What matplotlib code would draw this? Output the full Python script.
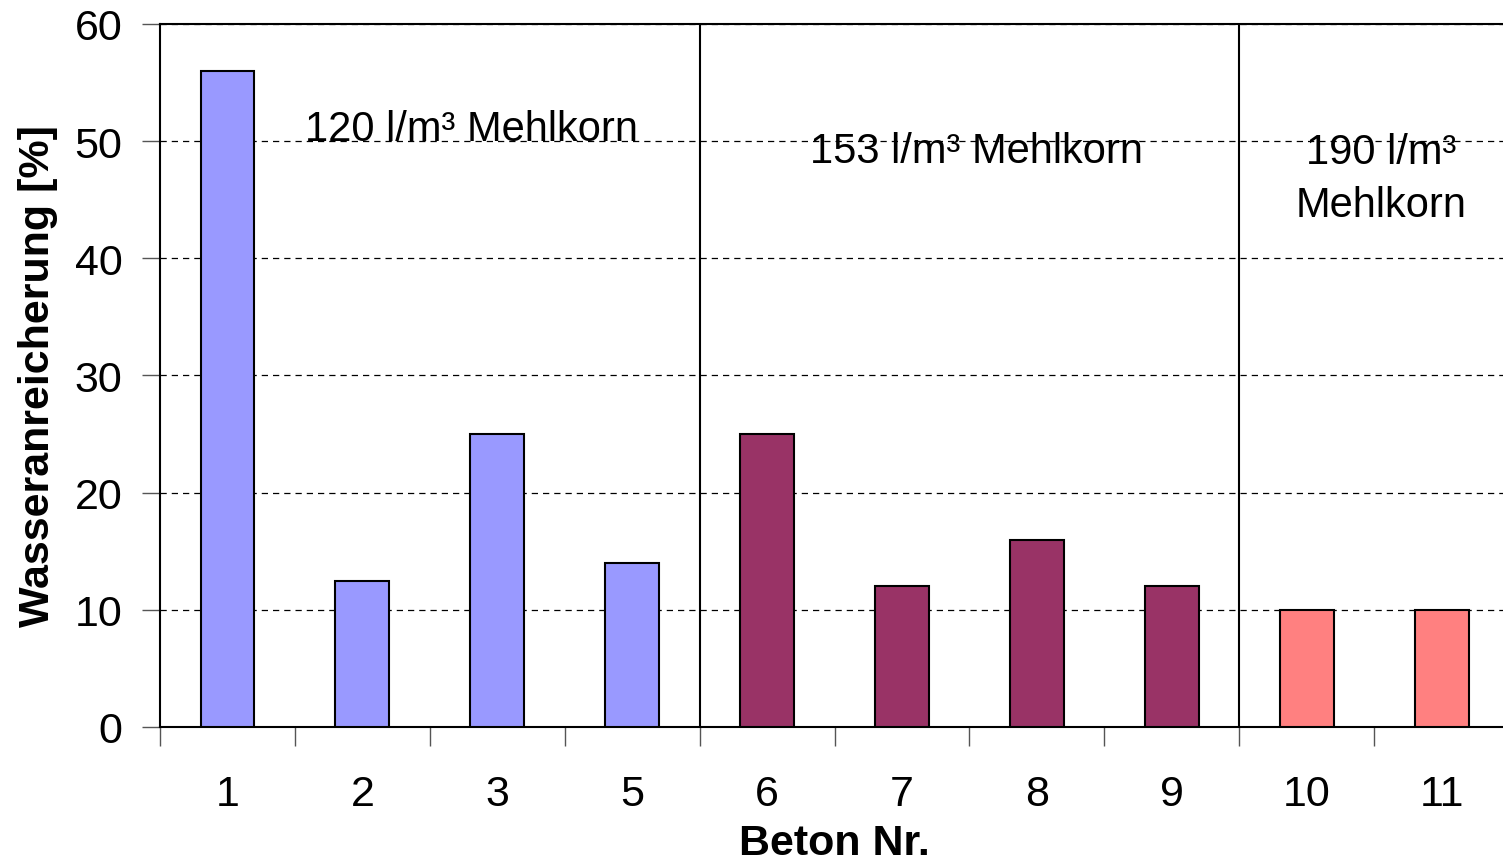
import matplotlib
matplotlib.use('Agg')
import matplotlib.pyplot as plt
import numpy as np

plt.rcParams['font.family'] = ['Liberation Sans', 'DejaVu Sans']

# data
beton_nr = ['1', '2', '3', '5', '6', '7', '8', '9', '10', '11']
wasseranreicherung = [56, 12.5, 25, 14, 25, 12, 16, 12, 10, 10]
gruppe = [0, 0, 0, 0, 1, 1, 1, 1, 2, 2]
gruppen_text = ['120 l/m³ Mehlkorn', '153 l/m³ Mehlkorn', '190 l/m³\nMehlkorn']

farben = ['#9999FF', '#993366', '#FF8080']

fig = plt.figure(figsize=(15.03, 8.62), dpi=100)
# axes runs slightly past the right edge of the figure, as in the original
ax = fig.add_axes([0.1065, 0.1555, 0.8975, 0.8155])

x = np.arange(len(beton_nr))
ax.bar(x, wasseranreicherung, width=0.4, color=[farben[g] for g in gruppe],
       edgecolor='black', linewidth=1.5, zorder=3)

ax.set_xlim(-0.5, len(beton_nr) - 0.5)
ax.set_ylim(0, 60)
ax.set_yticks(np.arange(0, 61, 10))
ax.yaxis.grid(True, linestyle=(0, (5, 4)), color='black', linewidth=0.9)
ax.set_axisbelow(True)

# x ticks between categories, labels centered
ax.set_xticks(np.arange(-0.5, len(beton_nr), 1))
ax.set_xticklabels([])
ax.set_xticks(x, minor=True)
ax.set_xticklabels(beton_nr, minor=True)
ax.tick_params(axis='x', which='major', direction='out', length=14, width=1, color='#555555')
ax.tick_params(axis='x', which='minor', length=0, pad=34, labelsize=31)
ax.tick_params(axis='y', direction='out', length=13, width=1, pad=14, labelsize=31, color='#555555')

for s in ['left', 'bottom', 'top']:
    ax.spines[s].set_linewidth(1.5)
ax.spines['right'].set_visible(False)

# group separators
grenzen = [i - 0.5 for i in range(1, len(gruppe)) if gruppe[i] != gruppe[i - 1]]
for g in grenzen:
    ax.axvline(g, color='black', linewidth=1.5, zorder=4)

# group labels
text_pos = [(1.81, 51.0), (5.55, 49.2), (8.55, 46.8)]
for t, (tx, ty) in zip(gruppen_text, text_pos):
    ax.text(tx, ty, t, ha='center', va='center', fontsize=30, linespacing=1.4, zorder=5)

ax.set_ylabel('Wasseranreicherung [%]', fontsize=31, fontweight='bold', labelpad=12)
ax.set_xlabel('Beton Nr.', fontsize=31, fontweight='bold', labelpad=6)

fig.savefig('out.png', facecolor='white')
